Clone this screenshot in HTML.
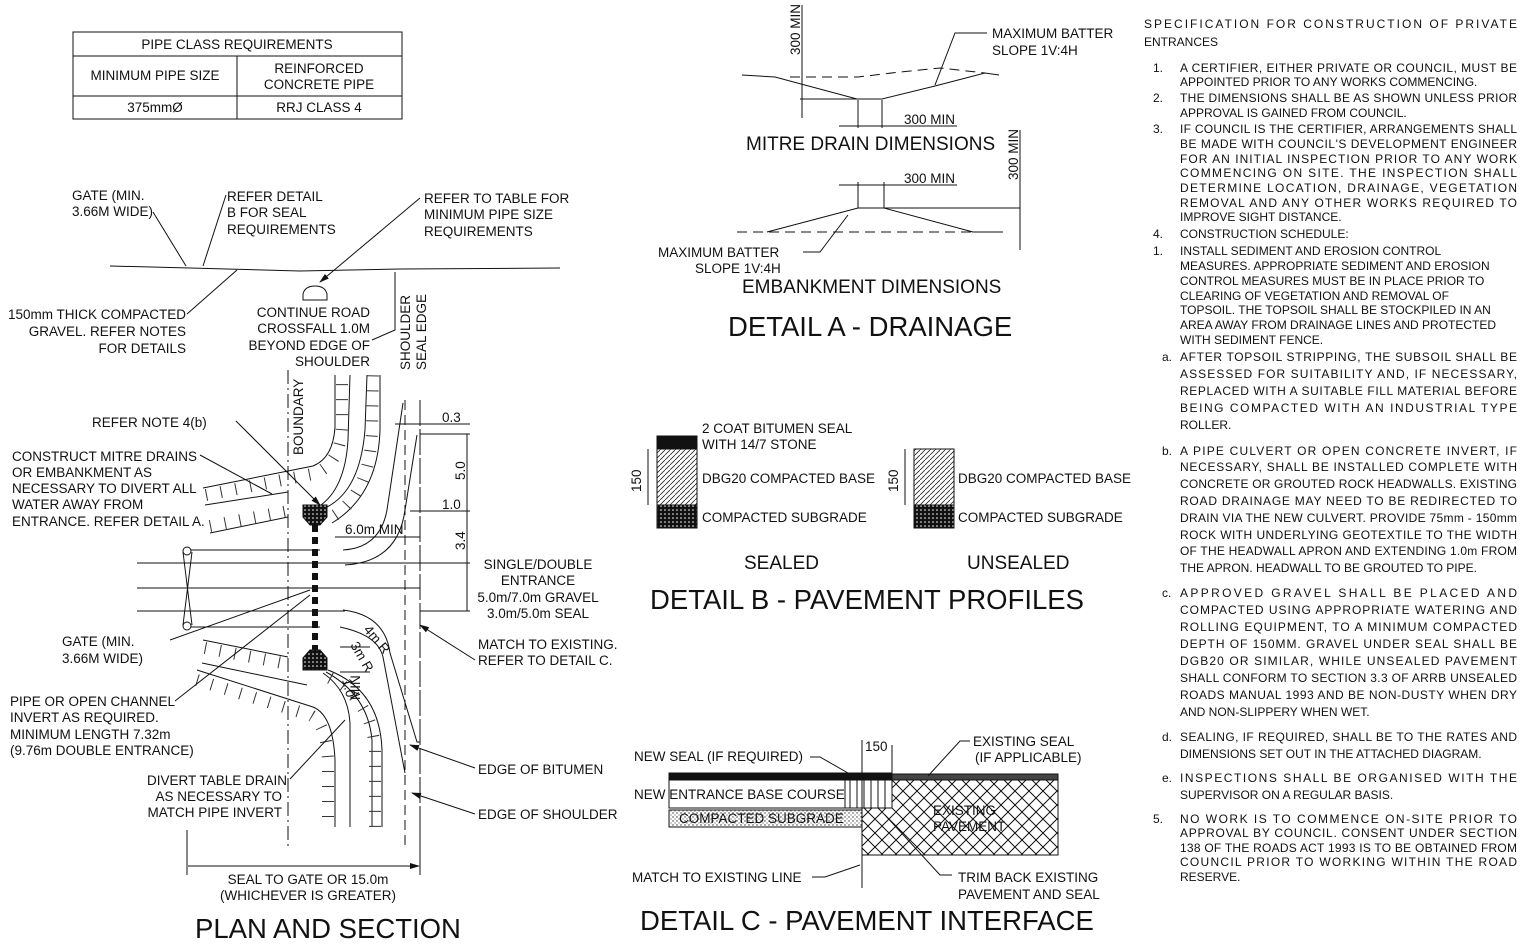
<!DOCTYPE html>
<html><head><meta charset="utf-8"><style>
html,body{margin:0;padding:0;background:#fff;}
svg{display:block;}
text{font-family:"Liberation Sans",Arial,sans-serif;fill:#111;}
.s{font-size:13.5px;}
.r{font-size:12px;}
.t{font-size:27.5px;}
.m{font-size:19px;}
</style></head><body>
<svg width="1524" height="951" viewBox="0 0 1524 951" xmlns="http://www.w3.org/2000/svg">
<defs>
<pattern id="hx" width="14" height="14" patternUnits="userSpaceOnUse"><path d="M0,0L14,14M14,0L0,14" stroke="#111" stroke-width="1"/></pattern>
<pattern id="dg" width="5" height="5" patternUnits="userSpaceOnUse"><path d="M0,5L5,0" stroke="#222" stroke-width="0.8"/></pattern>
<pattern id="dt" width="4" height="4" patternUnits="userSpaceOnUse"><rect width="4" height="4" fill="#fff"/><circle cx="1" cy="1" r="0.7" fill="#333"/><circle cx="3" cy="3" r="0.6" fill="#555"/></pattern>
<pattern id="dk" width="4" height="4" patternUnits="userSpaceOnUse"><rect width="4" height="4" fill="#111"/><circle cx="1" cy="2" r="0.8" fill="#fff"/></pattern>
<pattern id="vl" width="7" height="7" patternUnits="userSpaceOnUse"><path d="M3,0V7" stroke="#111" stroke-width="1"/></pattern>
<marker id="a" markerWidth="10" markerHeight="8" refX="9" refY="4" orient="auto" markerUnits="userSpaceOnUse"><path d="M0,1L10,4L0,7z" fill="#111"/></marker>
</defs>
<g stroke="#111" fill="none" stroke-width="1">
<!-- table -->
<rect x="73" y="32" width="329" height="87"/>
<line x1="73" y1="56" x2="402" y2="56"/><line x1="73" y1="96" x2="402" y2="96"/>
<line x1="237" y1="56" x2="237" y2="119"/>
<!-- plan top section -->
<polyline points="110,266 190,268 300,271 400,269 560,268"/>
<line x1="153" y1="212" x2="186" y2="266"/>
<line x1="226" y1="195" x2="203" y2="266"/>
<polyline points="187,314 237,270"/>
<polyline points="420,198 320,282" marker-end="url(#a)"/>
<path d="M303,300 h24 v-6 q-2,-8 -12,-8 q-10,0 -12,8z"/>
<polyline points="372,340 395,330 395,272"/>
<!-- plan vertical lines -->
<line x1="288" y1="370" x2="288" y2="850" stroke-dasharray="14,4,2,4"/>
<line x1="405" y1="400" x2="405" y2="850" stroke-dasharray="10,5"/>
<line x1="420" y1="400" x2="420" y2="850" stroke-dasharray="26,3"/>
<!-- horizontal lines -->
<line x1="187" y1="550" x2="320" y2="550"/>
<line x1="137" y1="563" x2="420" y2="563"/>
<line x1="137" y1="588" x2="420" y2="588"/>
<line x1="137" y1="611" x2="345" y2="611"/>
<line x1="187" y1="627" x2="320" y2="627"/>
<path d="M183,552 L192,625 M192,552 L183,625"/>
<circle cx="187" cy="551" r="4" fill="#fff"/><circle cx="187" cy="626" r="4" fill="#fff"/>
<!-- upper drain channel -->
<path d="M203,488 L313,466 Q333,458 335,427 L335,375"/>
<path d="M206,495 L313,474 Q340,465 342,427 L342,375" stroke-width="12" stroke-dasharray="1,14" stroke="#333"/>
<path d="M205,505 L288,492"/>
<path d="M210,533 L288,517"/>
<path d="M210,526 L288,511" stroke-width="12" stroke-dasharray="1,14" stroke="#333"/>
<path d="M318,507 Q345,490 348,440 L350,375"/>
<path d="M327,507 Q360,490 365,430 L367,375"/>
<path d="M332,523 Q378,495 380,430 L380,375"/>
<path d="M335,515 Q370,492 372,430 L373,375" stroke-width="12" stroke-dasharray="1,14" stroke="#333"/>
<!-- lower drain channel -->
<path d="M203,640 L288,657"/>
<path d="M205,648 L288,664" stroke-width="12" stroke-dasharray="1,14" stroke="#333"/>
<path d="M202,663 L307,685"/>
<path d="M197,670 L313,707 Q333,715 335,760 L335,827"/>
<path d="M197,680 L310,715 Q326,722 328,760 L328,827" stroke-width="12" stroke-dasharray="1,14" stroke="#333"/>
<path d="M323,673 Q348,690 350,723 L350,827"/>
<path d="M326,672 Q368,695 372,740 L372,827"/>
<path d="M328,670 Q380,690 382,750 L382,827"/>
<path d="M330,678 Q372,700 375,750 L375,827" stroke-width="12" stroke-dasharray="1,14" stroke="#333"/>
<!-- edge of bitumen / road edges -->
<path d="M417,435 L405,510 Q398,562 345,565"/>
<path d="M403,403 L387,510 Q380,548 343,550"/>
<path d="M343,610 Q385,615 390,653 L417,742 L420,742"/>
<path d="M340,627 Q378,635 383,657 L405,773"/>
<!-- headwalls & pipe -->
<path d="M303,505 h24 v12 l-7,8 h-10 l-7,-8z" fill="url(#dk)"/>
<path d="M303,670 h24 v-12 l-7,-8 h-10 l-7,8z" fill="url(#dk)"/>
<line x1="315" y1="525" x2="315" y2="650" stroke-width="6" stroke-dasharray="7,5"/>
<!-- dimension right -->
<line x1="420" y1="434" x2="470" y2="434"/>
<line x1="410" y1="511" x2="470" y2="511"/>
<line x1="420" y1="563" x2="470" y2="563"/>
<line x1="420" y1="611" x2="470" y2="611"/>
<line x1="467" y1="434" x2="467" y2="611"/>
<line x1="395" y1="424" x2="470" y2="424"/>
<line x1="335" y1="537" x2="420" y2="537"/>
<line x1="340" y1="647" x2="370" y2="647"/>
<line x1="340" y1="672" x2="370" y2="672"/>
<!-- leaders -->
<line x1="236" y1="421" x2="320" y2="505" marker-end="url(#a)"/>
<line x1="200" y1="455" x2="272" y2="494"/>
<line x1="170" y1="640" x2="310" y2="590"/>
<line x1="175" y1="701" x2="310" y2="595"/>
<line x1="290" y1="779" x2="345" y2="720"/>
<line x1="475" y1="660" x2="420" y2="625" marker-end="url(#a)"/>
<line x1="475" y1="768" x2="410" y2="745" marker-end="url(#a)"/>
<line x1="475" y1="814" x2="412" y2="793" marker-end="url(#a)"/>
<!-- bottom dim -->
<line x1="187" y1="830" x2="187" y2="875"/><line x1="420" y1="830" x2="420" y2="875"/>
<line x1="188" y1="866" x2="419" y2="866" marker-end="url(#a)"/>
<!-- Detail A mitre -->
<polyline points="742,75 775,77 857,99 882,99 935,86 985,73 999,75"/>
<polyline points="790,77 858,77 900,72 940,68 985,73" stroke-dasharray="10,6"/>
<line x1="802" y1="5" x2="802" y2="118"/>
<line x1="800" y1="99" x2="857" y2="99"/>
<line x1="858" y1="100" x2="858" y2="128"/><line x1="882" y1="100" x2="882" y2="128"/>
<line x1="839" y1="126" x2="957" y2="126"/>
<polyline points="987,33 955,33 935,85" />
<!-- Embankment -->
<polyline points="767,232 858,208 884,208 973,232 1003,232"/>
<line x1="737" y1="232" x2="1004" y2="232" stroke-dasharray="10,6"/>
<line x1="884" y1="208" x2="1020" y2="208"/>
<line x1="1020" y1="130" x2="1020" y2="250"/>
<line x1="858" y1="182" x2="858" y2="208"/><line x1="884" y1="182" x2="884" y2="208"/>
<line x1="839" y1="185" x2="957" y2="185"/>
<polyline points="803,252 820,252 848,215"/>
<!-- Detail B -->
<rect x="657" y="436" width="40" height="13" fill="#111"/>
<rect x="657" y="449" width="40" height="56" fill="url(#dg)"/>
<rect x="657" y="505" width="40" height="23" fill="url(#dk)"/>
<rect x="914" y="449" width="40" height="56" fill="url(#dg)"/>
<rect x="914" y="505" width="40" height="23" fill="url(#dk)"/>
<line x1="648" y1="449" x2="648" y2="505"/>
<line x1="905" y1="449" x2="905" y2="505"/>
<!-- Detail C -->
<rect x="862" y="780" width="196" height="75" fill="url(#hx)"/>
<rect x="669" y="780" width="223" height="28" fill="#fff"/>
<rect x="845" y="780" width="47" height="28" fill="url(#vl)"/>
<rect x="669" y="810" width="193" height="17" fill="url(#dt)"/>
<rect x="669" y="773" width="223" height="7" fill="#111"/>
<rect x="892" y="774" width="166" height="6" fill="#444"/>
<line x1="862" y1="855" x2="1058" y2="855" stroke-dasharray="6,3"/>
<line x1="862" y1="740" x2="862" y2="888"/>
<line x1="892" y1="745" x2="892" y2="780"/>
<polyline points="810,757 820,757 848,773"/>
<polyline points="970,741 960,741 928,776"/>
<polyline points="812,877 825,877 860,865"/>
<polyline points="952,875 940,875 885,815"/>
</g>
<!-- text -->
<g class="s">
<text x="237" y="49" text-anchor="middle">PIPE CLASS REQUIREMENTS</text>
<text x="155" y="80" text-anchor="middle">MINIMUM PIPE SIZE</text>
<text x="319" y="73" text-anchor="middle">REINFORCED</text>
<text x="319" y="89" text-anchor="middle">CONCRETE PIPE</text>
<text x="155" y="112" text-anchor="middle">375mmØ</text>
<text x="319" y="112" text-anchor="middle">RRJ CLASS 4</text>
<text x="72" y="200">GATE (MIN.</text><text x="72" y="216">3.66M WIDE)</text>
<text x="227" y="201">REFER DETAIL</text><text x="227" y="217">B FOR SEAL</text><text x="227" y="234">REQUIREMENTS</text>
<text x="424" y="203">REFER TO TABLE FOR</text><text x="424" y="219">MINIMUM PIPE SIZE</text><text x="424" y="236">REQUIREMENTS</text>
<text x="186" y="319" text-anchor="end">150mm THICK COMPACTED</text>
<text x="186" y="336" text-anchor="end">GRAVEL. REFER NOTES</text>
<text x="186" y="353" text-anchor="end">FOR DETAILS</text>
<text x="370" y="317" text-anchor="end">CONTINUE ROAD</text>
<text x="370" y="333" text-anchor="end">CROSSFALL 1.0M</text>
<text x="370" y="350" text-anchor="end">BEYOND EDGE OF</text>
<text x="370" y="366" text-anchor="end">SHOULDER</text>
<text transform="translate(410,370) rotate(-90)">SHOULDER</text>
<text transform="translate(426,370) rotate(-90)">SEAL EDGE</text>
<text transform="translate(303,455) rotate(-90)">BOUNDARY</text>
<text x="92" y="427">REFER NOTE 4(b)</text>
<text x="12" y="461">CONSTRUCT MITRE DRAINS</text>
<text x="12" y="477">OR EMBANKMENT AS</text>
<text x="12" y="493">NECESSARY TO DIVERT ALL</text>
<text x="12" y="509">WATER AWAY FROM</text>
<text x="12" y="526">ENTRANCE. REFER DETAIL A.</text>
<text x="442" y="422">0.3</text>
<text transform="translate(465,480) rotate(-90)">5.0</text>
<text x="442" y="509">1.0</text>
<text transform="translate(465,550) rotate(-90)">3.4</text>
<text x="345" y="534">6.0m MIN</text>
<text x="538" y="569" text-anchor="middle">SINGLE/DOUBLE</text>
<text x="538" y="585" text-anchor="middle">ENTRANCE</text>
<text x="538" y="602" text-anchor="middle">5.0m/7.0m GRAVEL</text>
<text x="538" y="618" text-anchor="middle">3.0m/5.0m SEAL</text>
<text x="62" y="646">GATE (MIN.</text><text x="62" y="663">3.66M WIDE)</text>
<text x="478" y="649">MATCH TO EXISTING.</text>
<text x="478" y="665">REFER TO DETAIL C.</text>
<text transform="translate(363,630) rotate(50)">4m R</text>
<text transform="translate(350,645) rotate(60)">3m R</text>
<text transform="translate(342,680) rotate(75)">1.0</text>
<text transform="translate(360,700) rotate(-90)">MIN</text>
<text x="10" y="706">PIPE OR OPEN CHANNEL</text>
<text x="10" y="722">INVERT AS REQUIRED.</text>
<text x="10" y="739">MINIMUM LENGTH 7.32m</text>
<text x="10" y="755">(9.76m DOUBLE ENTRANCE)</text>
<text x="287" y="785" text-anchor="end">DIVERT TABLE DRAIN</text>
<text x="282" y="801" text-anchor="end">AS NECESSARY TO</text>
<text x="282" y="817" text-anchor="end">MATCH PIPE INVERT</text>
<text x="478" y="774">EDGE OF BITUMEN</text>
<text x="478" y="819">EDGE OF SHOULDER</text>
<text x="308" y="884" text-anchor="middle">SEAL TO GATE OR 15.0m</text>
<text x="308" y="900" text-anchor="middle">(WHICHEVER IS GREATER)</text>
<text transform="translate(800,55) rotate(-90)">300 MIN</text>
<text x="992" y="38">MAXIMUM BATTER</text><text x="992" y="55">SLOPE 1V:4H</text>
<text x="904" y="124">300 MIN</text>
<text x="904" y="183">300 MIN</text>
<text transform="translate(1018,180) rotate(-90)">300 MIN</text>
<text x="658" y="257">MAXIMUM BATTER</text><text x="695" y="273">SLOPE 1V:4H</text>
<text x="702" y="433">2 COAT BITUMEN SEAL</text><text x="702" y="449">WITH 14/7 STONE</text>
<text x="702" y="483">DBG20 COMPACTED BASE</text>
<text x="702" y="522">COMPACTED SUBGRADE</text>
<text x="958" y="483">DBG20 COMPACTED BASE</text>
<text x="958" y="522">COMPACTED SUBGRADE</text>
<text transform="translate(641,492) rotate(-90)">150</text>
<text transform="translate(898,492) rotate(-90)">150</text>
<text x="634" y="761">NEW SEAL (IF REQUIRED)</text>
<text x="865" y="751">150</text>
<text x="973" y="746">EXISTING SEAL</text><text x="975" y="762">(IF APPLICABLE)</text>
<text x="634" y="799">NEW ENTRANCE BASE COURSE</text>
<text x="679" y="823">COMPACTED SUBGRADE</text>
<text x="933" y="815">EXISTING</text><text x="933" y="831">PAVEMENT</text>
<text x="632" y="882">MATCH TO EXISTING LINE</text>
<text x="958" y="882">TRIM BACK EXISTING</text><text x="958" y="899">PAVEMENT AND SEAL</text>
</g>
<g class="m">
<text x="746" y="150">MITRE DRAIN DIMENSIONS</text>
<text x="742" y="293">EMBANKMENT DIMENSIONS</text>
<text x="744" y="569">SEALED</text>
<text x="967" y="569">UNSEALED</text>
</g>
<g class="t">
<text x="728" y="336">DETAIL A - DRAINAGE</text>
<text x="650" y="609">DETAIL B - PAVEMENT PROFILES</text>
<text x="640" y="930">DETAIL C - PAVEMENT INTERFACE</text>
<text x="195" y="938">PLAN AND SECTION</text>
</g>
<g class="r">
<text x="1144" y="28" textLength="373" lengthAdjust="spacing">SPECIFICATION FOR CONSTRUCTION OF PRIVATE</text>
<text x="1144" y="46">ENTRANCES</text>
<text x="1153" y="72">1.</text><text x="1180" y="72" textLength="337" lengthAdjust="spacing">A CERTIFIER, EITHER PRIVATE OR COUNCIL, MUST BE</text>
<text x="1180" y="86">APPOINTED PRIOR TO ANY WORKS COMMENCING.</text>
<text x="1153" y="102">2.</text><text x="1180" y="102" textLength="337" lengthAdjust="spacing">THE DIMENSIONS SHALL BE AS SHOWN UNLESS PRIOR</text>
<text x="1180" y="117">APPROVAL IS GAINED FROM COUNCIL.</text>
<text x="1153" y="133">3.</text><text x="1180" y="133" textLength="337" lengthAdjust="spacing">IF COUNCIL IS THE CERTIFIER, ARRANGEMENTS SHALL</text>
<text x="1180" y="148" textLength="337" lengthAdjust="spacing">BE MADE WITH COUNCIL'S DEVELOPMENT ENGINEER</text>
<text x="1180" y="163" textLength="337" lengthAdjust="spacing">FOR AN INITIAL INSPECTION PRIOR TO ANY WORK</text>
<text x="1180" y="177" textLength="337" lengthAdjust="spacing">COMMENCING ON SITE. THE INSPECTION SHALL</text>
<text x="1180" y="192" textLength="337" lengthAdjust="spacing">DETERMINE LOCATION, DRAINAGE, VEGETATION</text>
<text x="1180" y="207" textLength="337" lengthAdjust="spacing">REMOVAL AND ANY OTHER WORKS REQUIRED TO</text>
<text x="1180" y="221">IMPROVE SIGHT DISTANCE.</text>
<text x="1153" y="238">4.</text><text x="1180" y="238">CONSTRUCTION SCHEDULE:</text>
<text x="1153" y="255">1.</text><text x="1180" y="255">INSTALL SEDIMENT AND EROSION CONTROL</text>
<text x="1180" y="270">MEASURES. APPROPRIATE SEDIMENT AND EROSION</text>
<text x="1180" y="285">CONTROL MEASURES MUST BE IN PLACE PRIOR TO</text>
<text x="1180" y="300">CLEARING OF VEGETATION AND REMOVAL OF</text>
<text x="1180" y="314">TOPSOIL. THE TOPSOIL SHALL BE STOCKPILED IN AN</text>
<text x="1180" y="329">AREA AWAY FROM DRAINAGE LINES AND PROTECTED</text>
<text x="1180" y="344">WITH SEDIMENT FENCE.</text>
<text x="1162" y="361">a.</text><text x="1180" y="361" textLength="337" lengthAdjust="spacing">AFTER TOPSOIL STRIPPING, THE SUBSOIL SHALL BE</text>
<text x="1180" y="378" textLength="337" lengthAdjust="spacing">ASSESSED FOR SUITABILITY AND, IF NECESSARY,</text>
<text x="1180" y="395" textLength="337" lengthAdjust="spacing">REPLACED WITH A SUITABLE FILL MATERIAL BEFORE</text>
<text x="1180" y="412" textLength="337" lengthAdjust="spacing">BEING COMPACTED WITH AN INDUSTRIAL TYPE</text>
<text x="1180" y="429">ROLLER.</text>
<text x="1162" y="455">b.</text><text x="1180" y="455" textLength="337" lengthAdjust="spacing">A PIPE CULVERT OR OPEN CONCRETE INVERT, IF</text>
<text x="1180" y="471" textLength="337" lengthAdjust="spacing">NECESSARY, SHALL BE INSTALLED COMPLETE WITH</text>
<text x="1180" y="488" textLength="337" lengthAdjust="spacing">CONCRETE OR GROUTED ROCK HEADWALLS. EXISTING</text>
<text x="1180" y="505" textLength="337" lengthAdjust="spacing">ROAD DRAINAGE MAY NEED TO BE REDIRECTED TO</text>
<text x="1180" y="522" textLength="337" lengthAdjust="spacing">DRAIN VIA THE NEW CULVERT. PROVIDE 75mm - 150mm</text>
<text x="1180" y="539" textLength="337" lengthAdjust="spacing">ROCK WITH UNDERLYING GEOTEXTILE TO THE WIDTH</text>
<text x="1180" y="555" textLength="337" lengthAdjust="spacing">OF THE HEADWALL APRON AND EXTENDING 1.0m FROM</text>
<text x="1180" y="572">THE APRON. HEADWALL TO BE GROUTED TO PIPE.</text>
<text x="1162" y="597">c.</text><text x="1180" y="597" textLength="337" lengthAdjust="spacing">APPROVED GRAVEL SHALL BE PLACED AND</text>
<text x="1180" y="614" textLength="337" lengthAdjust="spacing">COMPACTED USING APPROPRIATE WATERING AND</text>
<text x="1180" y="631" textLength="337" lengthAdjust="spacing">ROLLING EQUIPMENT, TO A MINIMUM COMPACTED</text>
<text x="1180" y="648" textLength="337" lengthAdjust="spacing">DEPTH OF 150MM. GRAVEL UNDER SEAL SHALL BE</text>
<text x="1180" y="665" textLength="337" lengthAdjust="spacing">DGB20 OR SIMILAR, WHILE UNSEALED PAVEMENT</text>
<text x="1180" y="682" textLength="337" lengthAdjust="spacing">SHALL CONFORM TO SECTION 3.3 OF ARRB UNSEALED</text>
<text x="1180" y="699" textLength="337" lengthAdjust="spacing">ROADS MANUAL 1993 AND BE NON-DUSTY WHEN DRY</text>
<text x="1180" y="716">AND NON-SLIPPERY WHEN WET.</text>
<text x="1162" y="741">d.</text><text x="1180" y="741" textLength="337" lengthAdjust="spacing">SEALING, IF REQUIRED, SHALL BE TO THE RATES AND</text>
<text x="1180" y="758">DIMENSIONS SET OUT IN THE ATTACHED DIAGRAM.</text>
<text x="1162" y="782">e.</text><text x="1180" y="782" textLength="337" lengthAdjust="spacing">INSPECTIONS SHALL BE ORGANISED WITH THE</text>
<text x="1180" y="799">SUPERVISOR ON A REGULAR BASIS.</text>
<text x="1153" y="823">5.</text><text x="1180" y="823" textLength="337" lengthAdjust="spacing">NO WORK IS TO COMMENCE ON-SITE PRIOR TO</text>
<text x="1180" y="837" textLength="337" lengthAdjust="spacing">APPROVAL BY COUNCIL. CONSENT UNDER SECTION</text>
<text x="1180" y="852" textLength="337" lengthAdjust="spacing">138 OF THE ROADS ACT 1993 IS TO BE OBTAINED FROM</text>
<text x="1180" y="866" textLength="337" lengthAdjust="spacing">COUNCIL PRIOR TO WORKING WITHIN THE ROAD</text>
<text x="1180" y="881">RESERVE.</text>
</g>
</svg>
</body></html>
